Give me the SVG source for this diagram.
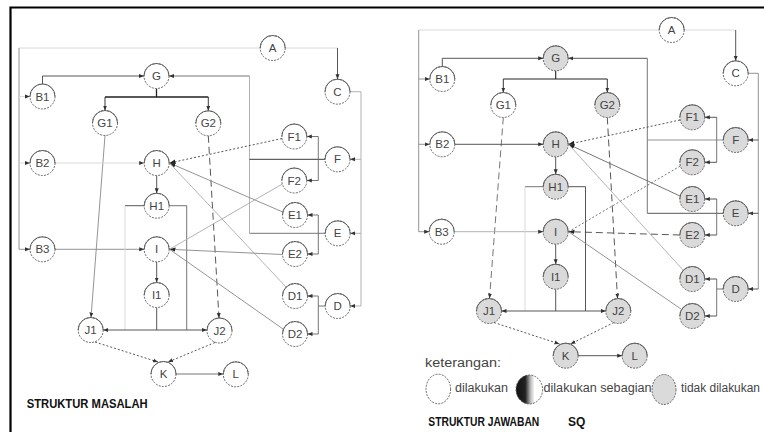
<svg xmlns="http://www.w3.org/2000/svg" width="764" height="432" viewBox="0 0 764 432">
<defs>
<marker id="ar" viewBox="0 0 6 6" refX="6" refY="3" markerWidth="5" markerHeight="5" orient="auto" markerUnits="userSpaceOnUse"><path d="M0,0.6 L6,3 L0,5.4z" fill="#333"/></marker>
<marker id="ab" viewBox="0 0 6 6" refX="6" refY="3" markerWidth="6" markerHeight="6" orient="auto" markerUnits="userSpaceOnUse"><path d="M0,0.8 L6,3 L0,5.2z" fill="#222"/></marker>
<linearGradient id="half" x1="0" y1="0" x2="1" y2="0">
<stop offset="0" stop-color="#111"/><stop offset="0.35" stop-color="#222"/><stop offset="0.55" stop-color="#bbb"/><stop offset="0.7" stop-color="#fff"/><stop offset="1" stop-color="#fff"/>
</linearGradient>
</defs>
<style>
.n{fill:#fff;stroke:#555;stroke-width:0.9;stroke-dasharray:2 1.2}
.g{fill:#dadada}
.t{fill:none;stroke:#555;stroke-width:0.9}
.lb{font-family:"Liberation Sans",Arial,sans-serif;font-size:11.5px;fill:#444;text-anchor:middle}
.c{fill:none;stroke-width:0.9}
.k{stroke:#222}
.d{stroke:#444}
.m{stroke:#666}
.s{stroke:#888}
.l{stroke:#aaa}
.x{stroke:#d6d6d6}
.a{marker-end:url(#ar)}
.b{marker-end:url(#ab)}
.dot{stroke-dasharray:2 2}
.dash{stroke-dasharray:7 4}
.hd{font-family:"Liberation Sans",Arial,sans-serif;font-weight:bold;font-size:12px;fill:#111}
.lg{font-family:"Liberation Sans",Arial,sans-serif;font-size:12.5px;fill:#444}
</style>
<rect width="764" height="432" fill="#fff"/>
<path d="M10.5,432 V7.5 H764" fill="none" stroke="#000" stroke-width="2.2"/>

<g id="connectors-left" class="c">
<path class="x" d="M260.2,48 H19"/>
<path class="s a" d="M19,48 V249.3 H30"/>
<path class="x a" d="M19,96.5 H30"/>
<path class="x a" d="M19,163 H30"/>
<path class="x" d="M285.2,48 H337.5"/>
<path class="d a" d="M337.5,48 V79.2"/>
<path class="d a" d="M42.5,84 V76 H144"/>
<path class="m" d="M325.2,233.3 H249.5"/>
<path class="l" d="M249.5,233.3 V76"/>
<path class="m a" d="M249.5,76 H169"/>
<path class="k" d="M325,159.3 H249.5"/>
<path class="k" stroke-width="1.3" d="M156.5,88.5 V97 M105,97 H208.3"/>
<path class="k a" d="M105,97 V110.5"/>
<path class="k a" d="M208.3,97 V110.8"/>
<path class="s a" d="M105,135.5 L91,317.5"/>
<path class="d a dash" d="M208.3,135.8 L219,318"/>
<path class="x a" d="M55,163 H144.2"/>
<path class="d a" d="M156.7,175.5 V193.2"/>
<path class="s a" d="M55,249.3 H144.2"/>
<path class="d a" d="M156.7,261.8 V282.5"/>
<path class="d" d="M144.2,205.7 H125"/>
<path class="x" d="M125,205.7 V330"/>
<path class="m" d="M169.2,205.7 H186.7 V330"/>
<path class="d a" d="M186.7,330 H103.2"/>
<path class="d a" d="M186.7,330 H207"/>
<path class="d" d="M156.7,307.5 V330"/>
<path class="d b dot" d="M282,138.5 L169.5,163"/>
<path class="s b" d="M282.7,212 L169.5,163"/>
<path class="l" d="M286,287 L169.5,163"/>
<path class="l" d="M282.3,184 L169.5,249.3"/>
<path class="s b" d="M282.5,254.5 L169.5,249.3"/>
<path class="s" d="M283,329 L169.5,249.3"/>
<path class="l" d="M350,91.7 H361 V306"/>
<path class="l a" d="M361,159.3 H350"/>
<path class="l a" d="M361,233.3 H350.2"/>
<path class="l a" d="M361,306 H350.2"/>
<path class="m" d="M318.3,136.5 V180.5 M318.3,215 V254 M318.3,296 V334 M318.3,306 H325.2"/>
<path class="m a" d="M318.3,136.5 H306.8"/>
<path class="m a" d="M318.3,180.5 H306.8"/>
<path class="m a" d="M318.3,215 H307.5"/>
<path class="m a" d="M318.3,254 H307.5"/>
<path class="m a" d="M318.3,296 H307.5"/>
<path class="m a" d="M318.3,334 H307.5"/>
<path class="d a dot" d="M95,342 L158,362"/>
<path class="d a dot" d="M215,342.5 L168,362"/>
<path class="m a" d="M176,374 H223.3"/>
</g>

<g id="connectors-right" class="c">
<path class="x" d="M659.2,30 H418.7"/>
<path class="s a" d="M418.7,30 V231.7 H429.2"/>
<path class="s a" d="M418.7,79 H429.8"/>
<path class="s a" d="M418.7,144.3 H429.8"/>
<path class="x" d="M684.2,30 H735.7"/>
<path class="d a" d="M735.7,30 V60.8"/>
<path class="d a" d="M442.3,66.5 V58.3 H543.2"/>
<path class="d" d="M723.2,213.3 H647.3"/>
<path class="m" d="M647.3,213.3 V58.3"/>
<path class="d a" d="M647.3,58.3 H568.2"/>
<path class="s" d="M723.2,140 H647.3"/>
<path class="k" stroke-width="1.1" d="M555.7,70.8 V79 M503.3,79 H607.3"/>
<path class="k a" d="M503.3,79 V92.5"/>
<path class="k a" d="M607.3,79 V92.5"/>
<path class="m a dash" d="M503.3,117.5 L489.5,298.5"/>
<path class="d a dash" d="M607.3,117.5 L617.5,298.5"/>
<path class="d a" d="M454.8,144.3 H543.2"/>
<path class="d a" d="M555.7,156.8 V174.2"/>
<path class="l a" d="M454.2,231.7 H543.2"/>
<path class="d a" d="M555.7,244.2 V264.2"/>
<path class="m" d="M543.2,186.7 H525"/>
<path class="x" d="M525,186.7 V311"/>
<path class="d" d="M568.2,186.7 H585.5 V311"/>
<path class="d a" d="M585.5,311 H501.5"/>
<path class="d a" d="M585.5,311 H605.8"/>
<path class="d" d="M555.7,289.2 V311"/>
<path class="d b dot" d="M680,120 L568.5,144.3"/>
<path class="m b" d="M680,196 L568.5,144.3"/>
<path class="l" d="M683,270 L568.5,144.3"/>
<path class="m dot" d="M680.3,166 L568.5,231.7"/>
<path class="d b dash" d="M679.8,235 L568.5,231.7"/>
<path class="s" d="M681,309 L568.5,231.7"/>
<path class="s" d="M748.2,73.3 H758.3 V289"/>
<path class="d a" d="M758.3,140 H748.2"/>
<path class="d a" d="M758.3,213.3 H748.2"/>
<path class="d a" d="M758.3,289 H748.2"/>
<path class="m" d="M716.7,117.3 V162.3 M716.7,199 V235 M716.7,279 V316 M716.7,289 H723.2"/>
<path class="d a" d="M716.7,117.3 H704.8"/>
<path class="d a" d="M716.7,162.3 H704.8"/>
<path class="d a" d="M716.7,199 H704.8"/>
<path class="d a" d="M716.7,235 H704.8"/>
<path class="d a" d="M716.7,279 H704.8"/>
<path class="d a" d="M716.7,316 H704.8"/>
<path class="d a dot" d="M494,322.5 L559.5,344"/>
<path class="d a dot" d="M614,322.5 L570.5,344"/>
<path class="d a" d="M578.2,355.7 H622.2"/>
</g>

<g id="L-A"><circle class="n" cx="272.7" cy="48" r="12.5"/><path class="t" d="M260.2,48 a12.5,12.5 0 0 1 25,0"/><text class="lb" x="272.7" y="52">A</text></g>
<g id="L-C"><circle class="n" cx="337.5" cy="91.7" r="12.5"/><path class="t" d="M325,91.7 a12.5,12.5 0 0 1 25,0"/><text class="lb" x="337.5" y="95.7">C</text></g>
<g id="L-B1"><circle class="n" cx="42.5" cy="96.5" r="12.5"/><path class="t" d="M30,96.5 a12.5,12.5 0 0 1 25,0"/><text class="lb" x="42.5" y="100.5">B1</text></g>
<g id="L-B2"><circle class="n" cx="42.5" cy="163" r="12.5"/><path class="t" d="M30,163 a12.5,12.5 0 0 1 25,0"/><text class="lb" x="42.5" y="167">B2</text></g>
<g id="L-B3"><circle class="n" cx="42.5" cy="249.3" r="12.5"/><path class="t" d="M30,249.3 a12.5,12.5 0 0 1 25,0"/><text class="lb" x="42.5" y="253.3">B3</text></g>
<g id="L-G"><circle class="n" cx="156.5" cy="76" r="12.5"/><path class="t" d="M144,76 a12.5,12.5 0 0 1 25,0"/><text class="lb" x="156.5" y="80">G</text></g>
<g id="L-G1"><circle class="n" cx="105" cy="123" r="12.5"/><path class="t" d="M92.5,123 a12.5,12.5 0 0 1 25,0"/><text class="lb" x="105" y="127">G1</text></g>
<g id="L-G2"><circle class="n" cx="208.3" cy="123.3" r="12.5"/><path class="t" d="M195.8,123.3 a12.5,12.5 0 0 1 25,0"/><text class="lb" x="208.3" y="127.3">G2</text></g>
<g id="L-H"><circle class="n" cx="156.7" cy="163" r="12.5"/><path class="t" d="M144.2,163 a12.5,12.5 0 0 1 25,0"/><text class="lb" x="156.7" y="167">H</text></g>
<g id="L-H1"><circle class="n" cx="156.7" cy="205.7" r="12.5"/><path class="t" d="M144.2,205.7 a12.5,12.5 0 0 1 25,0"/><text class="lb" x="156.7" y="209.7">H1</text></g>
<g id="L-I"><circle class="n" cx="156.7" cy="249.3" r="12.5"/><path class="t" d="M144.2,249.3 a12.5,12.5 0 0 1 25,0"/><text class="lb" x="156.7" y="253.3">I</text></g>
<g id="L-I1"><circle class="n" cx="156.7" cy="295" r="12.5"/><path class="t" d="M144.2,295 a12.5,12.5 0 0 1 25,0"/><text class="lb" x="156.7" y="299">I1</text></g>
<g id="L-J1"><circle class="n" cx="90.7" cy="330" r="12.5"/><path class="t" d="M78.2,330 a12.5,12.5 0 0 1 25,0"/><text class="lb" x="90.7" y="334">J1</text></g>
<g id="L-J2"><circle class="n" cx="219.5" cy="330.5" r="12.5"/><path class="t" d="M207,330.5 a12.5,12.5 0 0 1 25,0"/><text class="lb" x="219.5" y="334.5">J2</text></g>
<g id="L-K"><circle class="n" cx="163.5" cy="374" r="12.5"/><path class="t" d="M151,374 a12.5,12.5 0 0 1 25,0"/><text class="lb" x="163.5" y="378">K</text></g>
<g id="L-L"><circle class="n" cx="235.8" cy="374.3" r="12.5"/><path class="t" d="M223.3,374.3 a12.5,12.5 0 0 1 25,0"/><text class="lb" x="235.8" y="378.3">L</text></g>
<g id="L-F1"><circle class="n" cx="294.3" cy="136.5" r="12.5"/><path class="t" d="M281.8,136.5 a12.5,12.5 0 0 1 25,0"/><text class="lb" x="294.3" y="140.5">F1</text></g>
<g id="L-F"><circle class="n" cx="337.5" cy="159.3" r="12.5"/><path class="t" d="M325,159.3 a12.5,12.5 0 0 1 25,0"/><text class="lb" x="337.5" y="163.3">F</text></g>
<g id="L-F2"><circle class="n" cx="294.3" cy="180.5" r="12.5"/><path class="t" d="M281.8,180.5 a12.5,12.5 0 0 1 25,0"/><text class="lb" x="294.3" y="184.5">F2</text></g>
<g id="L-E1"><circle class="n" cx="295" cy="215" r="12.5"/><path class="t" d="M282.5,215 a12.5,12.5 0 0 1 25,0"/><text class="lb" x="295" y="219">E1</text></g>
<g id="L-E"><circle class="n" cx="337.7" cy="233.3" r="12.5"/><path class="t" d="M325.2,233.3 a12.5,12.5 0 0 1 25,0"/><text class="lb" x="337.7" y="237.3">E</text></g>
<g id="L-E2"><circle class="n" cx="295" cy="254" r="12.5"/><path class="t" d="M282.5,254 a12.5,12.5 0 0 1 25,0"/><text class="lb" x="295" y="258">E2</text></g>
<g id="L-D1"><circle class="n" cx="295" cy="296" r="12.5"/><path class="t" d="M282.5,296 a12.5,12.5 0 0 1 25,0"/><text class="lb" x="295" y="300">D1</text></g>
<g id="L-D"><circle class="n" cx="337.7" cy="306" r="12.5"/><path class="t" d="M325.2,306 a12.5,12.5 0 0 1 25,0"/><text class="lb" x="337.7" y="310">D</text></g>
<g id="L-D2"><circle class="n" cx="295" cy="334" r="12.5"/><path class="t" d="M282.5,334 a12.5,12.5 0 0 1 25,0"/><text class="lb" x="295" y="338">D2</text></g>

<g id="R-A"><circle class="n" cx="671.7" cy="30" r="12.5"/><path class="t" d="M659.2,30 a12.5,12.5 0 0 1 25,0"/><text class="lb" x="671.7" y="34">A</text></g>
<g id="R-C"><circle class="n" cx="735.7" cy="73.3" r="12.5"/><path class="t" d="M723.2,73.3 a12.5,12.5 0 0 1 25,0"/><text class="lb" x="735.7" y="77.3">C</text></g>
<g id="R-B1"><circle class="n" cx="442.3" cy="79" r="12.5"/><path class="t" d="M429.8,79 a12.5,12.5 0 0 1 25,0"/><text class="lb" x="442.3" y="83">B1</text></g>
<g id="R-B2"><circle class="n" cx="442.3" cy="144.3" r="12.5"/><path class="t" d="M429.8,144.3 a12.5,12.5 0 0 1 25,0"/><text class="lb" x="442.3" y="148.3">B2</text></g>
<g id="R-B3"><circle class="n" cx="441.7" cy="231.7" r="12.5"/><path class="t" d="M429.2,231.7 a12.5,12.5 0 0 1 25,0"/><text class="lb" x="441.7" y="235.7">B3</text></g>
<g id="R-G"><circle class="n g" cx="555.7" cy="58.3" r="12.5"/><path class="t" d="M543.2,58.3 a12.5,12.5 0 0 1 25,0"/><text class="lb" x="555.7" y="62.3">G</text></g>
<g id="R-G1"><circle class="n" cx="503.3" cy="105" r="12.5"/><path class="t" d="M490.8,105 a12.5,12.5 0 0 1 25,0"/><text class="lb" x="503.3" y="109">G1</text></g>
<g id="R-G2"><circle class="n g" cx="607.3" cy="105" r="12.5"/><path class="t" d="M594.8,105 a12.5,12.5 0 0 1 25,0"/><text class="lb" x="607.3" y="109">G2</text></g>
<g id="R-H"><circle class="n g" cx="555.7" cy="144.3" r="12.5"/><path class="t" d="M543.2,144.3 a12.5,12.5 0 0 1 25,0"/><text class="lb" x="555.7" y="148.3">H</text></g>
<g id="R-H1"><circle class="n g" cx="555.7" cy="186.7" r="12.5"/><path class="t" d="M543.2,186.7 a12.5,12.5 0 0 1 25,0"/><text class="lb" x="555.7" y="190.7">H1</text></g>
<g id="R-I"><circle class="n g" cx="555.7" cy="231.7" r="12.5"/><path class="t" d="M543.2,231.7 a12.5,12.5 0 0 1 25,0"/><text class="lb" x="555.7" y="235.7">I</text></g>
<g id="R-I1"><circle class="n g" cx="555.7" cy="276.7" r="12.5"/><path class="t" d="M543.2,276.7 a12.5,12.5 0 0 1 25,0"/><text class="lb" x="555.7" y="280.7">I1</text></g>
<g id="R-J1"><circle class="n g" cx="489" cy="311" r="12.5"/><path class="t" d="M476.5,311 a12.5,12.5 0 0 1 25,0"/><text class="lb" x="489" y="315">J1</text></g>
<g id="R-J2"><circle class="n g" cx="618.3" cy="311" r="12.5"/><path class="t" d="M605.8,311 a12.5,12.5 0 0 1 25,0"/><text class="lb" x="618.3" y="315">J2</text></g>
<g id="R-K"><circle class="n g" cx="565.7" cy="355.7" r="12.5"/><path class="t" d="M553.2,355.7 a12.5,12.5 0 0 1 25,0"/><text class="lb" x="565.7" y="359.7">K</text></g>
<g id="R-L"><circle class="n g" cx="634.7" cy="355.7" r="12.5"/><path class="t" d="M622.2,355.7 a12.5,12.5 0 0 1 25,0"/><text class="lb" x="634.7" y="359.7">L</text></g>
<g id="R-F1"><circle class="n g" cx="692.3" cy="117.3" r="12.5"/><path class="t" d="M679.8,117.3 a12.5,12.5 0 0 1 25,0"/><text class="lb" x="692.3" y="121.3">F1</text></g>
<g id="R-F"><circle class="n g" cx="735.7" cy="140" r="12.5"/><path class="t" d="M723.2,140 a12.5,12.5 0 0 1 25,0"/><text class="lb" x="735.7" y="144">F</text></g>
<g id="R-F2"><circle class="n g" cx="692.3" cy="162.3" r="12.5"/><path class="t" d="M679.8,162.3 a12.5,12.5 0 0 1 25,0"/><text class="lb" x="692.3" y="166.3">F2</text></g>
<g id="R-E1"><circle class="n g" cx="692.3" cy="199" r="12.5"/><path class="t" d="M679.8,199 a12.5,12.5 0 0 1 25,0"/><text class="lb" x="692.3" y="203">E1</text></g>
<g id="R-E"><circle class="n g" cx="735.7" cy="213.3" r="12.5"/><path class="t" d="M723.2,213.3 a12.5,12.5 0 0 1 25,0"/><text class="lb" x="735.7" y="217.3">E</text></g>
<g id="R-E2"><circle class="n g" cx="692.3" cy="235" r="12.5"/><path class="t" d="M679.8,235 a12.5,12.5 0 0 1 25,0"/><text class="lb" x="692.3" y="239">E2</text></g>
<g id="R-D1"><circle class="n g" cx="692.3" cy="279" r="12.5"/><path class="t" d="M679.8,279 a12.5,12.5 0 0 1 25,0"/><text class="lb" x="692.3" y="283">D1</text></g>
<g id="R-D"><circle class="n g" cx="735.7" cy="289" r="12.5"/><path class="t" d="M723.2,289 a12.5,12.5 0 0 1 25,0"/><text class="lb" x="735.7" y="293">D</text></g>
<g id="R-D2"><circle class="n g" cx="692.3" cy="316" r="12.5"/><path class="t" d="M679.8,316 a12.5,12.5 0 0 1 25,0"/><text class="lb" x="692.3" y="320">D2</text></g>

<g id="legend">
<text class="lg" x="425" y="367" textLength="76" lengthAdjust="spacingAndGlyphs">keterangan:</text>
<ellipse cx="438.3" cy="389" rx="12.3" ry="14.8" fill="#fff" stroke="#555" stroke-width="0.9" stroke-dasharray="2 1.2"/>
<text class="lg" x="455" y="392" textLength="53" lengthAdjust="spacingAndGlyphs">dilakukan</text>
<ellipse cx="529.3" cy="389.5" rx="13.3" ry="14.5" fill="url(#half)" stroke="#555" stroke-width="0.9" stroke-dasharray="2 1.2"/>
<text class="lg" x="543.5" y="392" textLength="108" lengthAdjust="spacingAndGlyphs">dilakukan sebagian</text>
<ellipse cx="664" cy="389.5" rx="12" ry="15" fill="#dadada" stroke="#555" stroke-width="0.9" stroke-dasharray="2 1.2"/>
<text class="lg" x="681" y="392" textLength="79" lengthAdjust="spacingAndGlyphs">tidak dilakukan</text>
</g>

<text class="hd" x="26.7" y="408" textLength="121" lengthAdjust="spacingAndGlyphs">STRUKTUR MASALAH</text>
<text class="hd" x="428.3" y="426" textLength="111" lengthAdjust="spacingAndGlyphs">STRUKTUR JAWABAN</text>
<text class="hd" x="568" y="426">SQ</text>
</svg>
